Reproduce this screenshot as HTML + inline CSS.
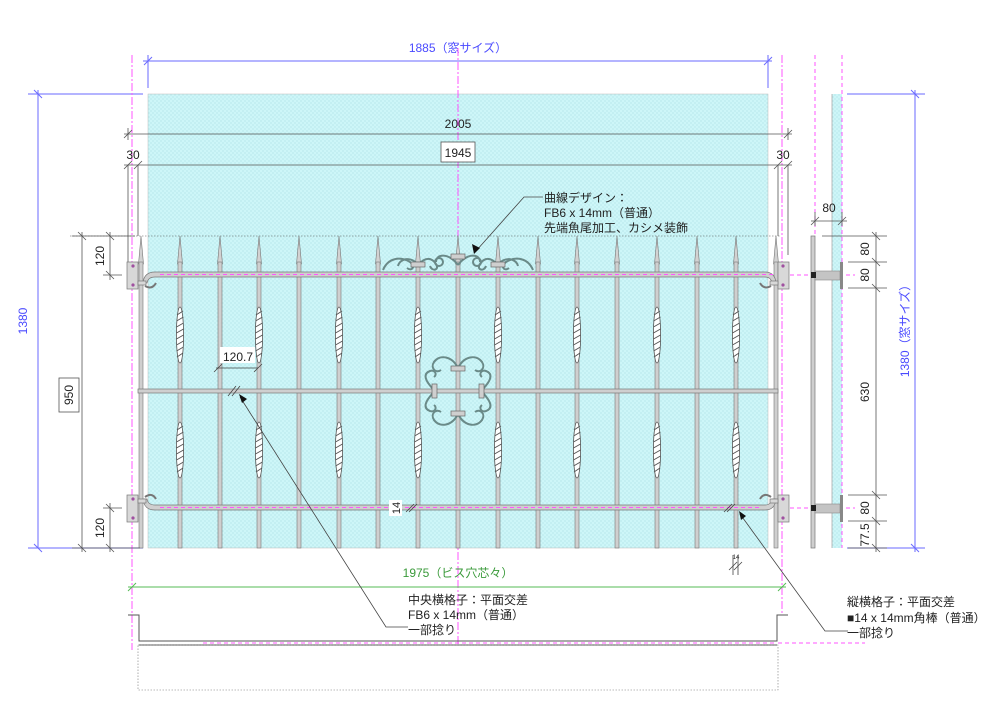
<!DOCTYPE html>
<html><head><meta charset="utf-8"><style>
html,body{margin:0;padding:0;background:#fff;}
svg{display:block;font-family:"Liberation Sans","Noto Sans CJK JP",sans-serif;}
</style></head><body>
<svg width="1000" height="720" viewBox="0 0 1000 720" xmlns="http://www.w3.org/2000/svg">
<defs>
<pattern id="dots" width="4" height="4" patternUnits="userSpaceOnUse">
<rect width="4" height="4" fill="#cdf6f8"/><circle cx="1" cy="1" r="0.6" fill="#a9dfe3"/><circle cx="3" cy="3" r="0.6" fill="#a9dfe3"/>
</pattern>
<g id="bar">
<path d="M-2.5,264 L0,236 L2.5,264 Z" fill="#d2d2d2" stroke="#777" stroke-width="0.6"/>
<rect x="-2" y="262" width="4" height="286" fill="#cfcfcf" stroke="#777" stroke-width="0.6"/>
</g>
<g id="tw">
<ellipse cx="0" cy="0" rx="3.6" ry="28" fill="#fff" stroke="#555" stroke-width="0.8"/>
<path d="M-3,-20 L3,-24 M-3.4,-14 L3.4,-18 M-3.5,-8 L3.5,-12 M-3.5,-2 L3.5,-6 M-3.5,4 L3.5,0 M-3.5,10 L3.5,6 M-3.4,16 L3.4,12 M-3,22 L3,18" stroke="#555" stroke-width="1"/>
</g>
<g id="twbar"><use href="#bar"/><use href="#tw" y="335"/><use href="#tw" y="450"/></g>
</defs>

<rect x="148" y="94" width="620" height="454" fill="url(#dots)" stroke="#bbb" stroke-width="0.5"/>
<rect x="832" y="94" width="10" height="454" fill="url(#dots)"/>
<line x1="832" y1="94" x2="832" y2="548" stroke="#aaa" stroke-width="0.8"/>

<g stroke="#6a6aff" stroke-width="1" fill="none">
<line x1="143" y1="61" x2="772" y2="61"/>
<line x1="148" y1="55" x2="148" y2="88"/><line x1="768" y1="55" x2="768" y2="88"/>
<line x1="144" y1="65" x2="152" y2="57"/><line x1="764" y1="65" x2="772" y2="57"/>
<line x1="28" y1="94" x2="143" y2="94"/><line x1="38" y1="90" x2="38" y2="548"/>
<line x1="28" y1="548" x2="143" y2="548"/>
<line x1="34" y1="90" x2="42" y2="98"/><line x1="34" y1="544" x2="42" y2="552"/>
<line x1="847" y1="94" x2="925" y2="94"/><line x1="915" y1="90" x2="915" y2="552"/>
<line x1="847" y1="548" x2="925" y2="548"/>
<line x1="911" y1="90" x2="919" y2="98"/><line x1="911" y1="544" x2="919" y2="552"/>
</g>
<g fill="#4a4aff" font-size="12">
<text x="458" y="52" text-anchor="middle">1885（窓サイズ）</text>
<text transform="translate(27,321) rotate(-90)" text-anchor="middle">1380</text>
<text transform="translate(909,328) rotate(-90)" text-anchor="middle">1380（窓サイズ）</text>
</g>

<g stroke="#ff55ff" stroke-width="1" fill="none">
<line x1="132" y1="55" x2="132" y2="650" stroke-dasharray="8,2,2,2"/>
<line x1="782" y1="55" x2="782" y2="615" stroke-dasharray="8,2,2,2"/>
<line x1="458" y1="48" x2="458" y2="645" stroke-dasharray="8,2,2,2"/>
<line x1="815" y1="55" x2="815" y2="236" stroke-dasharray="4,3"/>
<line x1="842" y1="55" x2="842" y2="548" stroke-dasharray="4,3"/>
<line x1="790" y1="275" x2="855" y2="275" stroke-dasharray="4,3"/>
<line x1="790" y1="508" x2="855" y2="508" stroke-dasharray="4,3"/>
<line x1="778" y1="643" x2="865" y2="643" stroke-dasharray="4,3"/>
</g>

<g stroke="#555" stroke-width="0.8" fill="none">
<line x1="124" y1="134" x2="792" y2="134"/>
<line x1="128" y1="128" x2="128" y2="140"/><line x1="788" y1="128" x2="788" y2="140"/>
<line x1="124" y1="138" x2="132" y2="130"/><line x1="784" y1="138" x2="792" y2="130"/>
<line x1="124" y1="165" x2="792" y2="165"/>
<line x1="124" y1="169" x2="132" y2="161"/><line x1="134" y1="169" x2="142" y2="161"/>
<line x1="774" y1="169" x2="782" y2="161"/><line x1="784" y1="169" x2="792" y2="161"/>
<line x1="128" y1="165" x2="128" y2="285"/><line x1="138" y1="165" x2="138" y2="236"/>
<line x1="778" y1="165" x2="778" y2="236"/><line x1="788" y1="165" x2="788" y2="255"/>
<line x1="70" y1="236" x2="780" y2="236" stroke-dasharray="1.5,1.5" stroke-width="0.6"/>
</g>
<g font-size="12" fill="#222">
<text x="458" y="128" text-anchor="middle">2005</text>
<rect x="441" y="142" width="34" height="20" fill="#fff" stroke="#555" stroke-width="0.8"/>
<text x="458" y="157" text-anchor="middle">1945</text>
<text x="133" y="159" text-anchor="middle">30</text>
<text x="783" y="159" text-anchor="middle">30</text>
</g>

<use href="#bar" x="141"/>
<use href="#twbar" x="180"/><use href="#bar" x="220"/><use href="#twbar" x="259"/><use href="#bar" x="299"/>
<use href="#twbar" x="339"/><use href="#bar" x="378"/><use href="#twbar" x="418"/><use href="#bar" x="458"/>
<use href="#twbar" x="498"/><use href="#bar" x="538"/><use href="#twbar" x="577"/><use href="#bar" x="617"/>
<use href="#twbar" x="657"/><use href="#bar" x="697"/><use href="#twbar" x="736"/><use href="#bar" x="776"/>

<g fill="#cfcfcf" stroke="#777" stroke-width="0.7">
<path d="M155,272 L765,272 Q775,272 776,283 L772,283 Q771,277 765,277 L155,277 Q148,277 147,283 L143,283 Q144,272 155,272 Z"/>
<path d="M155,510 L765,510 Q775,510 776,499 L772,499 Q771,505 765,505 L155,505 Q148,505 147,499 L143,499 Q144,510 155,510 Z"/>
<rect x="138" y="389" width="640" height="4"/>
</g>
<g stroke="#ff55ff" stroke-width="1" stroke-dasharray="4,3">
<line x1="160" y1="274.5" x2="775" y2="274.5"/><line x1="160" y1="507.5" x2="760" y2="507.5"/>
</g>
<g fill="none" stroke="#777" stroke-width="2">
<path d="M145,286 Q152,290 156,283"/><path d="M771,286 Q764,290 760,283"/>
<path d="M145,497 Q152,492 156,499"/><path d="M771,497 Q764,492 760,499"/>
</g>
<g fill="#d8d8d8" stroke="#777" stroke-width="0.7">
<rect x="127" y="262" width="11" height="27"/><rect x="127" y="495" width="11" height="27"/>
<rect x="778" y="262" width="11" height="27"/><rect x="778" y="495" width="11" height="27"/>
<rect x="138" y="281" width="8" height="4"/><rect x="138" y="499" width="8" height="4"/>
<rect x="770" y="281" width="8" height="4"/><rect x="770" y="499" width="8" height="4"/>
</g>
<g fill="#a050a0"><circle cx="133" cy="266" r="1.6"/><circle cx="133" cy="285" r="1.6"/><circle cx="133" cy="499" r="1.6"/><circle cx="133" cy="518" r="1.6"/>
<circle cx="783" cy="266" r="1.6"/><circle cx="783" cy="285" r="1.6"/><circle cx="783" cy="499" r="1.6"/><circle cx="783" cy="518" r="1.6"/></g>

<g fill="none" stroke="#6a8a88" stroke-width="2">
<path d="M383,270 C388,258 400,256 410,262 C416,266 412,272 407,268"/>
<path d="M418,265 C412,256 400,258 398,266"/>
<path d="M418,265 C426,256 432,258 436,264 C440,270 432,272 430,266"/>
<path d="M458,265 C448,252 436,254 436,262"/>
<path d="M533,270 C528,258 516,256 506,262 C500,266 504,272 509,268"/>
<path d="M498,265 C504,256 516,258 518,266"/>
<path d="M498,265 C490,256 484,258 480,264 C476,270 484,272 486,266"/>
<path d="M458,265 C468,252 480,254 480,262"/>
<circle cx="439" cy="262" r="4"/><circle cx="477" cy="262" r="4"/>
</g>
<g fill="#cfcfcf" stroke="#666" stroke-width="0.7">
<rect x="411" y="262" width="14" height="5"/><rect x="451" y="254" width="14" height="5"/><rect x="491" y="262" width="14" height="5"/>
</g>
<g fill="none" stroke="#6a8a88" stroke-width="2">
<path d="M458,368 C452,356 440,354 434,362 C430,368 436,374 441,370"/>
<path d="M458,368 C464,356 476,354 482,362 C486,368 480,374 475,370"/>
<path d="M458,414 C452,426 440,428 434,420 C430,414 436,408 441,412"/>
<path d="M458,414 C464,426 476,428 482,420 C486,414 480,408 475,412"/>
<path d="M435,391 C428,384 422,376 428,372 C434,368 438,374 434,377"/>
<path d="M435,391 C428,398 422,406 428,410 C434,414 438,408 434,405"/>
<path d="M481,391 C488,384 494,376 488,372 C482,368 478,374 482,377"/>
<path d="M481,391 C488,398 494,406 488,410 C482,414 478,408 482,405"/>
</g>
<g fill="#cfcfcf" stroke="#666" stroke-width="0.7">
<rect x="451" y="366" width="14" height="5"/><rect x="451" y="411" width="14" height="5"/>
<rect x="432" y="384" width="5" height="14"/><rect x="479" y="384" width="5" height="14"/>
</g>

<rect x="811" y="236" width="4" height="312" fill="#cfcfcf" stroke="#777" stroke-width="0.7"/>
<rect x="815" y="271" width="25" height="9" fill="#c4c4c4" stroke="#888" stroke-width="0.6"/>
<rect x="815" y="504" width="25" height="9" fill="#c4c4c4" stroke="#888" stroke-width="0.6"/>
<rect x="840" y="262" width="3" height="27" fill="#888"/><rect x="840" y="495" width="3" height="27" fill="#888"/>
<rect x="811" y="272" width="5" height="6" fill="#222"/><rect x="811" y="505" width="5" height="6" fill="#222"/>

<g stroke="#555" stroke-width="0.8" fill="none">
<line x1="822" y1="236" x2="887" y2="236"/><line x1="848" y1="262" x2="887" y2="262"/>
<line x1="848" y1="288" x2="887" y2="288"/><line x1="848" y1="495" x2="887" y2="495"/>
<line x1="848" y1="521" x2="887" y2="521"/><line x1="848" y1="548" x2="887" y2="548"/>
<line x1="876" y1="232" x2="876" y2="552"/>
<line x1="872" y1="232" x2="880" y2="240"/><line x1="872" y1="258" x2="880" y2="266"/><line x1="872" y1="284" x2="880" y2="292"/>
<line x1="872" y1="491" x2="880" y2="499"/><line x1="872" y1="517" x2="880" y2="525"/><line x1="872" y1="544" x2="880" y2="552"/>
<line x1="811" y1="221" x2="847" y2="221"/><line x1="815" y1="212" x2="815" y2="226"/><line x1="842" y1="212" x2="842" y2="226"/>
<line x1="811" y1="225" x2="819" y2="217"/><line x1="838" y1="225" x2="846" y2="217"/>
</g>
<g font-size="12" fill="#222">
<text x="829" y="212" text-anchor="middle">80</text>
<text transform="translate(869,249) rotate(-90)" text-anchor="middle">80</text>
<text transform="translate(869,275) rotate(-90)" text-anchor="middle">80</text>
<text transform="translate(869,392) rotate(-90)" text-anchor="middle">630</text>
<text transform="translate(869,508) rotate(-90)" text-anchor="middle">80</text>
<text transform="translate(869,535) rotate(-90)" text-anchor="middle">77.5</text>
</g>

<g stroke="#555" stroke-width="0.8" fill="none">
<line x1="72" y1="236" x2="135" y2="236"/><line x1="103" y1="275" x2="122" y2="275"/>
<line x1="103" y1="508" x2="122" y2="508"/><line x1="72" y1="548" x2="140" y2="548"/>
<line x1="82" y1="232" x2="82" y2="552"/><line x1="110" y1="232" x2="110" y2="280"/><line x1="110" y1="503" x2="110" y2="552"/>
<line x1="78" y1="232" x2="86" y2="240"/><line x1="78" y1="544" x2="86" y2="552"/>
<line x1="106" y1="232" x2="114" y2="240"/><line x1="106" y1="271" x2="114" y2="279"/>
<line x1="106" y1="504" x2="114" y2="512"/><line x1="106" y1="544" x2="114" y2="552"/>
</g>
<g font-size="12" fill="#222">
<rect x="59" y="378" width="20" height="34" fill="#fff" stroke="#555" stroke-width="0.8"/>
<text transform="translate(73,395) rotate(-90)" text-anchor="middle">950</text>
<text transform="translate(104,256) rotate(-90)" text-anchor="middle">120</text>
<text transform="translate(104,528) rotate(-90)" text-anchor="middle">120</text>
</g>

<g stroke="#444" stroke-width="0.8" fill="none">
<line x1="216" y1="368" x2="258" y2="368"/><line x1="214" y1="372" x2="222" y2="364"/><line x1="254" y1="372" x2="262" y2="364"/>
<line x1="228" y1="396" x2="236" y2="386"/><line x1="232" y1="396" x2="240" y2="386"/>
<line x1="406" y1="512" x2="414" y2="504"/><line x1="409" y1="512" x2="417" y2="504"/>
<line x1="724" y1="512" x2="732" y2="504"/><line x1="727" y1="512" x2="735" y2="504"/>
<line x1="733" y1="555" x2="733" y2="575"/><line x1="738" y1="555" x2="738" y2="575"/>
<line x1="729" y1="570" x2="737" y2="562"/><line x1="734" y1="570" x2="742" y2="562"/>
</g>
<rect x="220" y="347" width="35" height="16" fill="#fff"/>
<text x="238" y="361" font-size="12" fill="#222" text-anchor="middle">120.7</text>
<rect x="389" y="500" width="13" height="16" fill="#fff"/>
<text transform="translate(400,508) rotate(-90)" font-size="11" fill="#222" text-anchor="middle">14</text>
<text x="736" y="559" font-size="6" fill="#222" text-anchor="middle">14</text>

<g stroke="#55bb55" stroke-width="1"><line x1="128" y1="587" x2="786" y2="587"/>
<line x1="128" y1="591" x2="136" y2="583"/><line x1="778" y1="591" x2="786" y2="583"/></g>
<text x="458" y="577" font-size="12" fill="#3a9a3a" text-anchor="middle">1975（ビス穴芯々）</text>

<g stroke="#555" stroke-width="1" fill="none">
<path d="M128,615 L139,615 L139,641 L777,641 L777,615 L788,615"/>
<line x1="139" y1="645" x2="777" y2="645"/>
<rect x="138" y="645" width="640" height="45" stroke="#777" stroke-width="0.6" stroke-dasharray="1.5,1.5"/>
</g>
<line x1="203" y1="643" x2="777" y2="643" stroke="#ff55ff" stroke-dasharray="4,3"/>

<g stroke="#444" stroke-width="0.8" fill="none">
<polyline points="543,197 524,197 476,251"/>
<polyline points="408,627 386,627 240,397"/>
<polyline points="848,631 825,631 740,514"/>
</g>
<g fill="#111">
<path d="M474,254 L472,244 L480,248 Z"/>
<path d="M239,394 L247,399 L242,403 Z"/>
<path d="M739,511 L746,516 L741,520 Z"/>
</g>
<g font-size="12" fill="#222">
<text x="544" y="202">曲線デザイン：</text>
<text x="544" y="217">FB6 x 14mm（普通）</text>
<text x="544" y="232">先端魚尾加工、カシメ装飾</text>
<text x="408" y="604">中央横格子：平面交差</text>
<text x="408" y="619">FB6 x 14mm（普通）</text>
<text x="408" y="634">一部捻り</text>
<text x="847" y="606">縦横格子：平面交差</text>
<text x="847" y="622">■14 x 14mm角棒（普通）</text>
<text x="847" y="637">一部捻り</text>
</g>
</svg>
</body></html>
